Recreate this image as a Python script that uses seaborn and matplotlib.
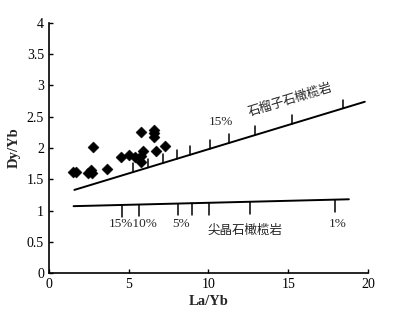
import numpy as np
import pandas as pd
import matplotlib
matplotlib.use("Agg")
import matplotlib.pyplot as plt
import seaborn as sns

# sample data (La/Yb, Dy/Yb)
la_yb = [1.5, 1.7, 2.45, 2.63, 2.72, 2.76, 3.64, 4.55, 5.05, 5.4, 5.75, 5.8, 5.9,
         5.76, 6.6, 6.62, 6.62, 6.74, 7.3]
dy_yb = [1.62, 1.62, 1.60, 1.65, 1.60, 2.01, 1.67, 1.86, 1.89, 1.86, 1.88, 1.78, 1.95,
         2.26, 2.29, 2.24, 2.18, 1.95, 2.03]

# melting curves
garnet_x = [1.6, 19.8]
garnet_y = [1.33, 2.74]
garnet_ticks = [5.3, 6.24, 7.15, 8.0, 8.84, 10.1, 11.3, 12.9, 15.25, 18.45]
spinel_x = [1.55, 18.8]
spinel_y = [1.07, 1.18]
spinel_ticks = [4.57, 5.66, 8.1, 8.95, 10.03, 12.6, 17.9]

sns.set_theme(style="ticks")
plt.rcParams['font.family'] = ['Liberation Serif', 'Noto Sans CJK SC']

fig = plt.figure(figsize=(3.97, 3.19), dpi=100)
ax = fig.add_axes([0.123, 0.144, 0.804, 0.784])

df = pd.DataFrame({"x": la_yb, "y": dy_yb})
sns.scatterplot(data=df, x="x", y="y", marker="D", s=32, color="black",
                edgecolor="black", linewidth=0.3, ax=ax, zorder=3)

ax.plot(garnet_x, garnet_y, color="black", lw=1.4)
ax.plot(spinel_x, spinel_y, color="black", lw=1.4)
for t in garnet_ticks:
    yl = np.interp(t, garnet_x, garnet_y)
    ax.plot([t, t], [yl, yl + 0.14], color="black", lw=1.1)
for t in spinel_ticks:
    yl = np.interp(t, spinel_x, spinel_y)
    ax.plot([t, t], [yl, yl - 0.19], color="black", lw=1.1)

fs = 9.5
ax.text(10.8, 2.42, "15%", fontsize=fs, ha="center", va="center")
ax.text(15.1, 2.77, "石榴子石橄榄岩", fontsize=9, ha="center", va="center",
        rotation=17, family=['Noto Sans CJK SC'])
ax.text(5.28, 0.78, "15%10%", fontsize=fs, ha="center", va="center")
ax.text(8.3, 0.78, "5%", fontsize=fs, ha="center", va="center")
ax.text(18.1, 0.78, "1%", fontsize=fs, ha="center", va="center")
ax.text(12.3, 0.69, "尖晶石橄榄岩", fontsize=9, ha="center", va="center",
        family=['Noto Sans CJK SC'])

ax.set_xlim(0, 20)
ax.set_ylim(0, 4)
ax.set_xticks([0, 5, 10, 15, 20])
ax.set_yticks([0, 0.5, 1, 1.5, 2, 2.5, 3, 3.5, 4])
ax.set_yticklabels(["0", "0.5", "1", "1.5", "2", "2.5", "3", "3.5", "4"])
ax.tick_params(direction="in", length=3, width=1, labelsize=10, colors="black")
ax.set_xlabel("La/Yb", fontsize=10.5, labelpad=3, fontweight="bold")
ax.set_ylabel("Dy/Yb", fontsize=10.5, labelpad=4, fontweight="bold")
for s in ["top", "right"]:
    ax.spines[s].set_visible(False)
for s in ["left", "bottom"]:
    ax.spines[s].set_color("black")
    ax.spines[s].set_linewidth(1.2)

fig.savefig("out.png", dpi=100)
